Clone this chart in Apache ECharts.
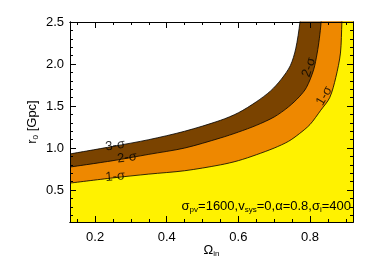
<!DOCTYPE html>
<html><head><meta charset="utf-8">
<script src="https://cdn.jsdelivr.net/npm/echarts@6/dist/echarts.min.js"></script>
<style>html,body{margin:0;padding:0;background:#fff}#c{width:374px;height:267px}</style>
</head><body><div id="c"></div>
<script>
// ---- data ----
const xRange = [0.13, 0.92];
const yRange = [0.12, 2.5];
const xMajorTicks = [0.2, 0.4, 0.6, 0.8];
const xMinorTicks = [0.15, 0.25, 0.3, 0.35, 0.45, 0.5, 0.55, 0.65, 0.7, 0.75, 0.85, 0.9];
const yMajorTicks = [0.5, 1.0, 1.5, 2.0, 2.5];
const yMinorTicks = [0.2, 0.3, 0.4, 0.6, 0.7, 0.8, 0.9, 1.1, 1.2, 1.3, 1.4, 1.6, 1.7, 1.8, 1.9, 2.1, 2.2, 2.3, 2.4];
// contour boundaries [Omega_in, r0]
const sigma3 = [[0.13,0.93],[0.25,1.02],[0.35,1.10],[0.45,1.20],[0.55,1.33],[0.60,1.42],[0.65,1.55],[0.69,1.68],[0.72,1.82],[0.745,1.98],[0.76,2.18],[0.772,2.5],[0.778,2.8],[0.92,2.8]];
const sigma2 = [[0.13,0.774],[0.25,0.85],[0.35,0.925],[0.45,1.0],[0.55,1.12],[0.60,1.19],[0.65,1.27],[0.70,1.37],[0.74,1.49],[0.77,1.61],[0.79,1.72],[0.81,1.93],[0.82,2.13],[0.826,2.3],[0.831,2.5],[0.835,2.8],[0.92,2.8]];
const sigma1 = [[0.13,0.583],[0.25,0.645],[0.35,0.69],[0.45,0.73],[0.55,0.80],[0.60,0.85],[0.65,0.92],[0.70,1.00],[0.74,1.08],[0.77,1.17],[0.80,1.28],[0.83,1.45],[0.855,1.6],[0.872,1.84],[0.885,2.13],[0.889,2.5],[0.892,2.8],[0.92,2.8]];
const contourLabels = [
  {text: '3-σ', at: [0.256, 1.03], rot: 8},
  {text: '2-σ', at: [0.289, 0.885], rot: 7},
  {text: '1-σ', at: [0.256, 0.66], rot: 5},
  {text: '2-σ', at: [0.797, 1.96], rot: 72},
  {text: '1-σ', at: [0.840, 1.62], rot: 60}
];
const colors = {s1: '#FFF200', s2: '#EE8800', s3: '#7A4300'};
const FONT = 'Liberation Sans, Arial, Helvetica, sans-serif';

const chart = echarts.init(document.getElementById('c'), null, {renderer: 'canvas'});
function xAx(pos, ticks, len, showLabel, extra) {
  return Object.assign({
    type: 'value', position: pos, min: xRange[0], max: xRange[1], z: 10,
    axisLine: {show: true, onZero: false, lineStyle: {color: '#000', width: 1}},
    axisTick: {show: true, inside: true, length: len, customValues: ticks, lineStyle: {color: '#000', width: 1}},
    axisLabel: showLabel ? {show: true, customValues: ticks, formatter: v => v.toFixed(1), fontSize: 13, color: '#000', fontFamily: FONT, margin: 9} : {show: false},
    splitLine: {show: false}
  }, extra || {});
}
function yAx(pos, ticks, len, showLabel, extra) {
  return Object.assign({
    type: 'value', position: pos, min: yRange[0], max: yRange[1], z: 10,
    axisLine: {show: true, onZero: false, lineStyle: {color: '#000', width: 1}},
    axisTick: {show: true, inside: true, length: len, customValues: ticks, lineStyle: {color: '#000', width: 1}},
    axisLabel: showLabel ? {show: true, customValues: ticks, formatter: v => v.toFixed(1), fontSize: 13, color: '#000', fontFamily: FONT, margin: 6} : {show: false},
    splitLine: {show: false}
  }, extra || {});
}
const sub = {fontSize: 8, fontFamily: FONT, color: '#000', padding: [7, 0, 0, 0]};
function contourSeries(data, color) {
  return {
    type: 'line', data: data, xAxisIndex: 0, yAxisIndex: 0, smooth: 0.3, symbol: 'none',
    lineStyle: {color: '#000', width: 0.8}, areaStyle: {color: color, opacity: 1, origin: 'start'},
    silent: true, animation: false
  };
}
chart.setOption({
  animation: false,
  backgroundColor: '#fff',
  grid: {left: 70, right: 21, top: 22, bottom: 45},
  xAxis: [
    xAx('bottom', xMajorTicks, 6, true, {name: 'Ω{s|in}', nameLocation: 'middle', nameGap: 21, nameMoveOverlap: false,
      nameTextStyle: {fontSize: 13, color: '#000', fontFamily: FONT, rich: {s: sub}}}),
    xAx('bottom', xMinorTicks, 3, false),
    xAx('top', xMajorTicks, 6, false),
    xAx('top', xMinorTicks, 3, false)
  ],
  yAxis: [
    yAx('left', yMajorTicks, 6, true, {name: 'r{s|0} [Gpc]', nameLocation: 'middle', nameGap: 30, nameMoveOverlap: false,
      nameTextStyle: {fontSize: 13, color: '#000', fontFamily: FONT, rich: {s: sub}}}),
    yAx('left', yMinorTicks, 3, false),
    yAx('right', yMajorTicks, 6, false),
    yAx('right', yMinorTicks, 3, false)
  ],
  series: [
    contourSeries(sigma3, colors.s3),
    contourSeries(sigma2, colors.s2),
    contourSeries(sigma1, colors.s1),
    {
      type: 'scatter', xAxisIndex: 0, yAxisIndex: 0, symbolSize: 0, silent: true, z: 5,
      data: contourLabels.map(l => ({value: l.at, label: {show: true, formatter: l.text, rotate: l.rot,
        position: 'inside', fontSize: 13, color: '#000', fontFamily: FONT}}))
    }
  ],
  graphic: [{
    type: 'text', right: 23, top: 200, z: 20,
    style: {
      text: 'σ{s|pv}=1600,v{s|sys}=0,α=0.8,σ{s|i}=400',
      fontSize: 13, fontFamily: FONT, fill: '#000',
      rich: {s: {fontSize: 8, fontFamily: FONT, fill: '#000', padding: [7, 0, 0, 0]}}
    }
  }]
});
</script></body></html>
